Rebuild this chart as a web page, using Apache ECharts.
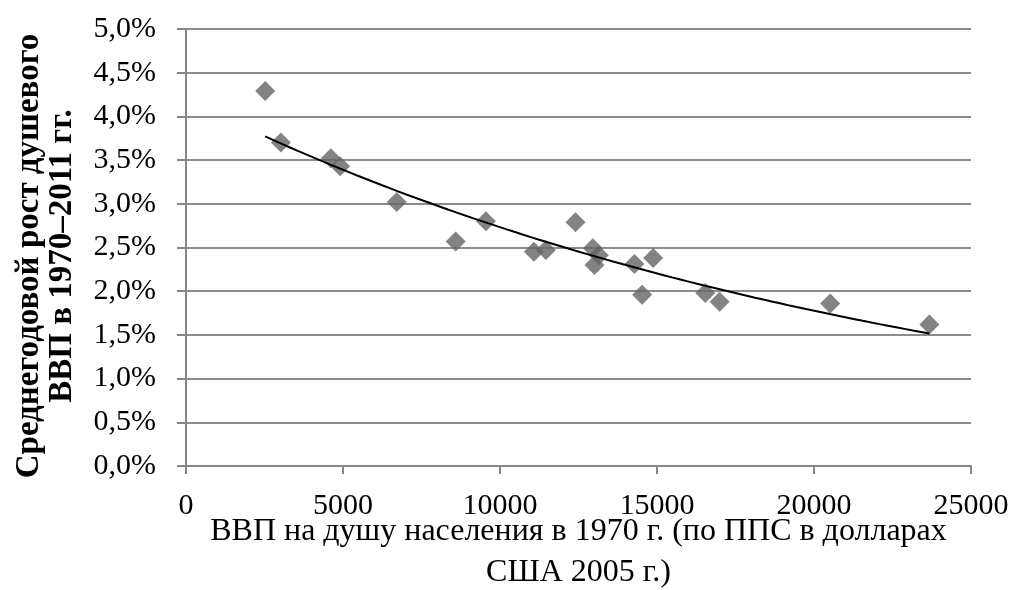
<!DOCTYPE html>
<html>
<head>
<meta charset="utf-8">
<script src="https://cdn.jsdelivr.net/npm/echarts@6/dist/echarts.min.js"></script>
<style>
  html, body { margin: 0; padding: 0; background: #fff; }
  #main { width: 1012px; height: 590px; }
</style>
</head>
<body>
<div id="main"></div>
<script type="text/javascript">
    // ВВП на душу в 1970 г. (ППС, долл. 2005) и среднегодовой рост 1970-2011, %
    var gdp1970 = [2522, 3022, 4612, 4908, 6711, 8588, 9552, 11079, 11460, 12405,
                   12955, 13146, 13009, 14281, 14876, 14526, 16539, 16994, 20515, 23674];
    var growth = [4.29, 3.70, 3.52, 3.43, 3.02, 2.57, 2.80, 2.45, 2.47, 2.79,
                  2.49, 2.41, 2.30, 2.31, 2.38, 1.96, 1.98, 1.88, 1.86, 1.62];
    var xTicks = [0, 5000, 10000, 15000, 20000, 25000];
    var yTicks = [0, 0.5, 1, 1.5, 2, 2.5, 3, 3.5, 4, 4.5, 5];

    var font = 'Liberation Serif';

    var points = gdp1970.map(function (x, i) { return [x, growth[i]]; });

    // экспоненциальный тренд (как в Excel): МНК по ln(y)
    var n = gdp1970.length, mx = 0, my = 0;
    for (var i = 0; i < n; i++) { mx += gdp1970[i]; my += Math.log(growth[i]); }
    mx /= n; my /= n;
    var sxy = 0, sxx = 0;
    for (var i = 0; i < n; i++) {
        sxy += (gdp1970[i] - mx) * (Math.log(growth[i]) - my);
        sxx += (gdp1970[i] - mx) * (gdp1970[i] - mx);
    }
    var b = sxy / sxx, a = Math.exp(my - b * mx);
    var xMin = Math.min.apply(null, gdp1970), xMax = Math.max.apply(null, gdp1970);
    var trend = [];
    for (var k = 0; k <= 80; k++) {
        var x = xMin + (xMax - xMin) * k / 80;
        trend.push([x, a * Math.exp(b * x)]);
    }

    var myChart = echarts.init(document.getElementById('main'));

    var option = {
        animation: false,
        backgroundColor: '#fff',
        grid: { left: 186, right: 41, top: 29, bottom: 124, outerBoundsMode: 'none' },
        xAxis: {
            type: 'value',
            min: xTicks[0],
            max: xTicks[xTicks.length - 1],
            interval: 5000,
            name: 'ВВП на душу населения в 1970 г. (по ППС в долларах\nСША 2005 г.)',
            nameLocation: 'middle',
            nameGap: 45,
            nameMoveOverlap: false,
            nameTextStyle: { fontFamily: font, fontSize: 32, color: '#000', lineHeight: 41 },
            axisLine: { onZero: false, lineStyle: { color: '#868686', width: 2 } },
            axisTick: { show: true, length: 8, lineStyle: { color: '#868686', width: 2 } },
            axisLabel: {
                margin: 25,
                fontFamily: font, fontSize: 30, color: '#000',
                formatter: function (v) { return String(v); }
            },
            splitLine: { show: false }
        },
        yAxis: {
            type: 'value',
            min: yTicks[0],
            max: yTicks[yTicks.length - 1],
            interval: 0.5,
            name: 'Среднегодовой рост душевого\nВВП в 1970–2011 гг.',
            nameLocation: 'middle',
            nameRotate: 90,
            nameGap: 107,
            nameMoveOverlap: false,
            nameTextStyle: {
                fontFamily: font, fontSize: 33, fontWeight: 'bold', color: '#000',
                lineHeight: 33, padding: [0, 17, 0, 0]
            },
            axisLine: { show: true, lineStyle: { color: '#868686', width: 2 } },
            axisTick: { show: true, length: 9, lineStyle: { color: '#868686', width: 2 } },
            axisLabel: {
                margin: 30,
                fontFamily: font, fontSize: 30, color: '#000',
                formatter: function (v) { return v.toFixed(1).replace('.', ',') + '%'; }
            },
            splitLine: { show: true, lineStyle: { color: '#8c8c8c', width: 2 } }
        },
        series: [
            {
                type: 'scatter',
                data: points,
                symbol: 'diamond',
                symbolSize: 20,
                itemStyle: { color: '#646464' },
                z: 2
            },
            {
                type: 'line',
                data: trend,
                showSymbol: false,
                smooth: false,
                lineStyle: { color: '#000', width: 2 },
                z: 3
            }
        ]
    };

    myChart.setOption(option);
</script>
</body>
</html>
